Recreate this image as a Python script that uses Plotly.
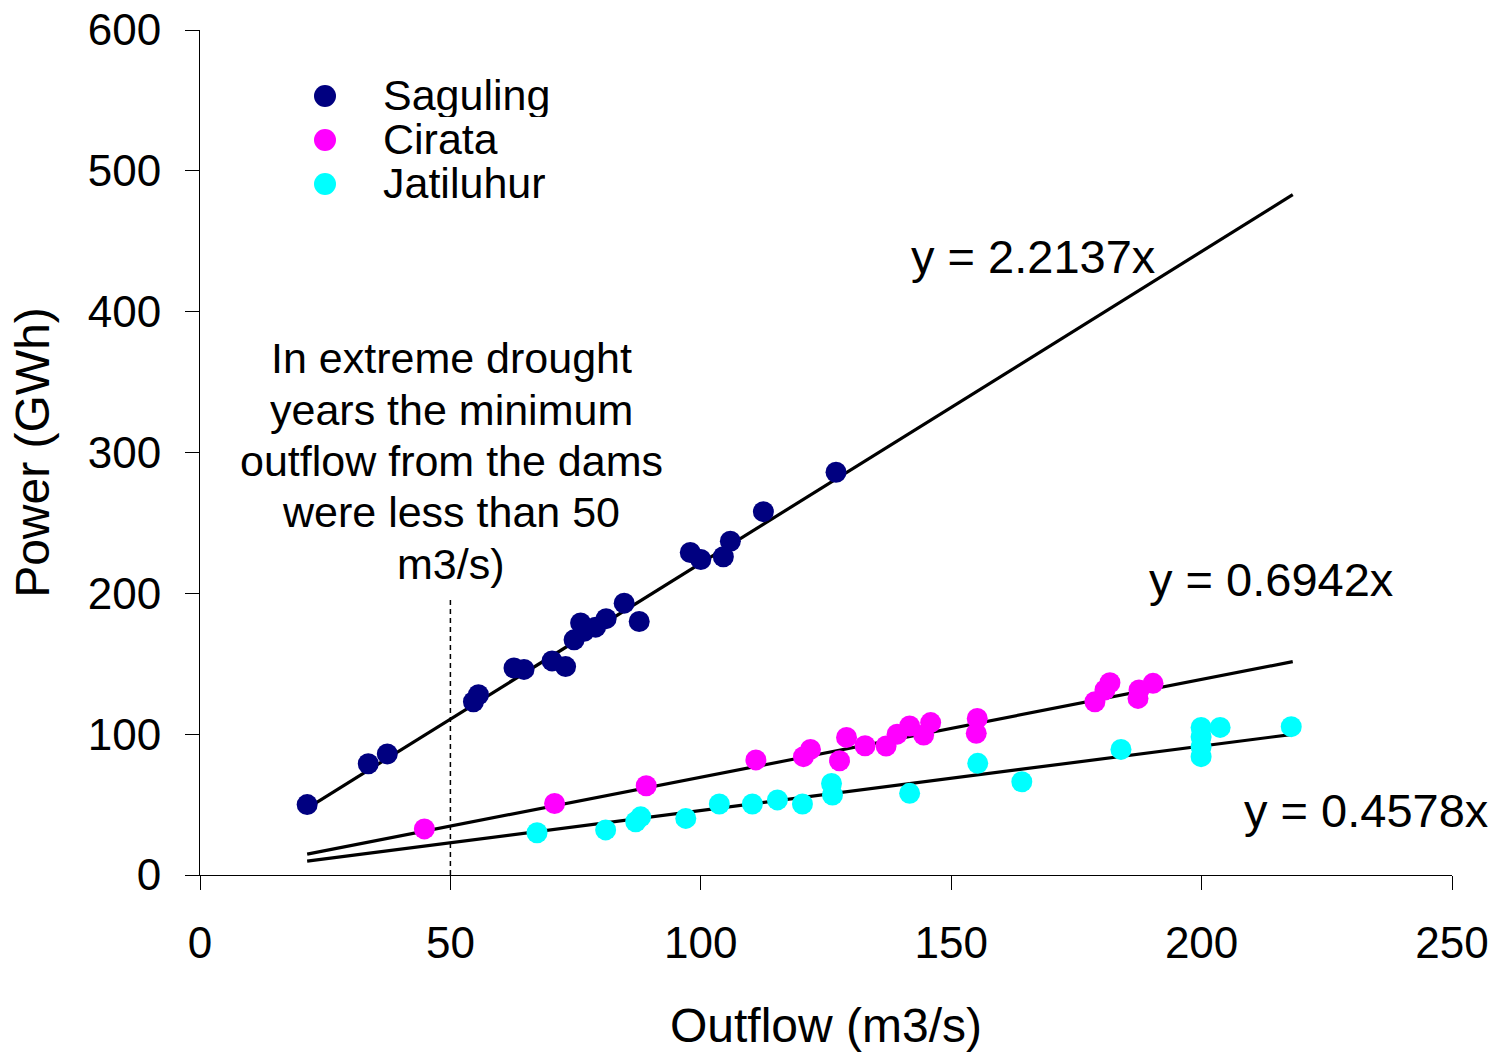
import plotly.graph_objects as go

# ---------------- data ----------------
sag_x = [21.4, 33.6, 37.4, 54.6, 55.6, 62.7, 64.7, 70.3, 73.0, 74.7, 76.0, 76.7, 79.0, 81.1, 84.7, 87.7,
         97.9, 100.0, 104.5, 105.9, 112.5, 127.0]
sag_y = [50, 79, 86, 123, 128, 147, 146, 152, 148, 167, 179, 173, 176, 182, 193, 180,
         229, 224, 226, 237, 258, 286]

cir_x = [44.8, 70.8, 89.1, 111.0, 120.5, 121.9, 127.7, 129.1, 132.8, 137.0, 139.2, 141.7, 144.5, 145.9,
         155.0, 155.2, 178.7, 180.7, 181.7, 187.3, 187.5, 190.3]
cir_y = [32.7, 50.8, 63.4, 81.7, 84.0, 89.2, 81.1, 97.7, 91.8, 91.6, 100.0, 105.8, 99.4, 108.2,
         100.6, 111.2, 123.0, 131.4, 136.5, 125.4, 131.4, 136.1]

jat_x = [67.3, 81.0, 87.0, 88.0, 97.0, 103.7, 110.3, 115.3, 120.3, 126.3, 126.1, 141.7, 155.3, 164.1,
         183.9, 199.9, 199.9, 199.9, 199.9, 203.7, 217.9]
jat_y = [30.0, 32.0, 37.8, 41.3, 40.2, 50.4, 50.4, 53.3, 50.4, 56.8, 65.0, 58.0, 79.3, 66.2,
         89.2, 104.8, 98.0, 91.0, 84.0, 104.8, 105.3]

series_names = ["Saguling", "Cirata", "Jatiluhur"]
series_colors = ["#000080", "#FF00FF", "#00FFFF"]
trend_slopes = [2.2137, 0.6942, 0.4578]
trend_x = [21.4, 218.2]
trend_labels = ["y = 2.2137x", "y = 0.6942x", "y = 0.4578x"]
trend_label_pos = [(166.4, 439.0), (213.9, 209.5), (232.8, 46.0)]

drought_x = [50, 50]
drought_y = [0, 198]
note_lines = ["In extreme drought", "years the minimum", "outflow from the dams",
              "were less than 50", "m3/s)"]

x_ticks = [0, 50, 100, 150, 200, 250]
y_ticks = [0, 100, 200, 300, 400, 500, 600]

FONT = "Liberation Sans, Arial, sans-serif"

# plot-area geometry (pixels) used only to place the free text / legend
PL, PR, PT, PB = 200, 1452, 30, 875
PW, PH = PR - PL, PB - PT


def px_to_paper(px, py):
    return (px - PL) / PW, (PB - py) / PH


fig = go.Figure()

# trendlines
for slope in trend_slopes:
    fig.add_trace(go.Scatter(
        x=trend_x, y=[slope * v for v in trend_x], mode="lines",
        line=dict(color="black", width=3.2), showlegend=False, hoverinfo="skip"))

# drought line
fig.add_trace(go.Scatter(x=drought_x, y=drought_y, mode="lines",
                         line=dict(color="black", width=1.5, dash="5px,4px"),
                         showlegend=False, hoverinfo="skip"))

# points
for name, color, xs, ys in zip(series_names, series_colors,
                               [sag_x, cir_x, jat_x], [sag_y, cir_y, jat_y]):
    fig.add_trace(go.Scatter(x=xs, y=ys, mode="markers", name=name,
                             marker=dict(color=color, size=21, line=dict(width=0)),
                             showlegend=False))

annotations = []
for txt, (ax, ay) in zip(trend_labels, trend_label_pos):
    annotations.append(dict(x=ax, y=ay, xref="x", yref="y", text=txt, showarrow=False,
                            xanchor="center", yanchor="middle",
                            font=dict(family=FONT, size=47, color="black")))

# note block, one line per annotation to match line spacing
note_px = [358, 410, 461, 512, 564]
for txt, py in zip(note_lines, note_px):
    xp, yp = px_to_paper(451, py)
    annotations.append(dict(x=xp, y=yp, xref="paper", yref="paper", height=50,
                            text=txt, showarrow=False, xanchor="center", yanchor="middle",
                            font=dict(family=FONT, size=43, color="black")))

# legend (manual, to match tight spacing)
legend_py = [96, 140, 184]
shapes = []
for name, color, py in zip(series_names, series_colors, legend_py):
    xp, yp = px_to_paper(325, py)
    shapes.append(dict(type="circle", xref="paper", yref="paper",
                       xsizemode="pixel", ysizemode="pixel",
                       xanchor=xp, yanchor=yp, x0=-11, x1=11, y0=-11, y1=11,
                       fillcolor=color, line=dict(width=0)))
    tx, ty = px_to_paper(381, py - 1)
    annotations.append(dict(x=tx, y=ty, xref="paper", yref="paper", height=44,
                            text=name, showarrow=False, xanchor="left", yanchor="middle",
                            font=dict(family=FONT, size=43, color="black")))

fig.update_layout(
    width=1502, height=1052,
    margin=dict(l=PL, r=1502 - PR, t=PT, b=1052 - PB, pad=0, autoexpand=False),
    paper_bgcolor="white", plot_bgcolor="white",
    font=dict(family=FONT, size=44, color="black"),
    annotations=annotations, shapes=shapes,
    showlegend=False,
)
fig.update_xaxes(range=[0, 250], tickvals=x_ticks, ticks="outside", ticklen=14, tickwidth=1,
                 tickcolor="black", showline=True, linecolor="black", linewidth=1,
                 showgrid=False, zeroline=False, ticklabelstandoff=15, automargin=False,
                 tickfont=dict(family=FONT, size=44),
                 title=dict(text="Outflow (m3/s)", font=dict(family=FONT, size=48), standoff=42))
fig.update_yaxes(range=[0, 600], tickvals=y_ticks, ticks="outside", ticklen=14, tickwidth=1,
                 tickcolor="black", showline=True, linecolor="black", linewidth=1,
                 showgrid=False, zeroline=False, ticklabelstandoff=15, automargin=False,
                 tickfont=dict(family=FONT, size=44),
                 title=dict(text="Power (GWh)", font=dict(family=FONT, size=48), standoff=22))

fig.write_html("out.html")
